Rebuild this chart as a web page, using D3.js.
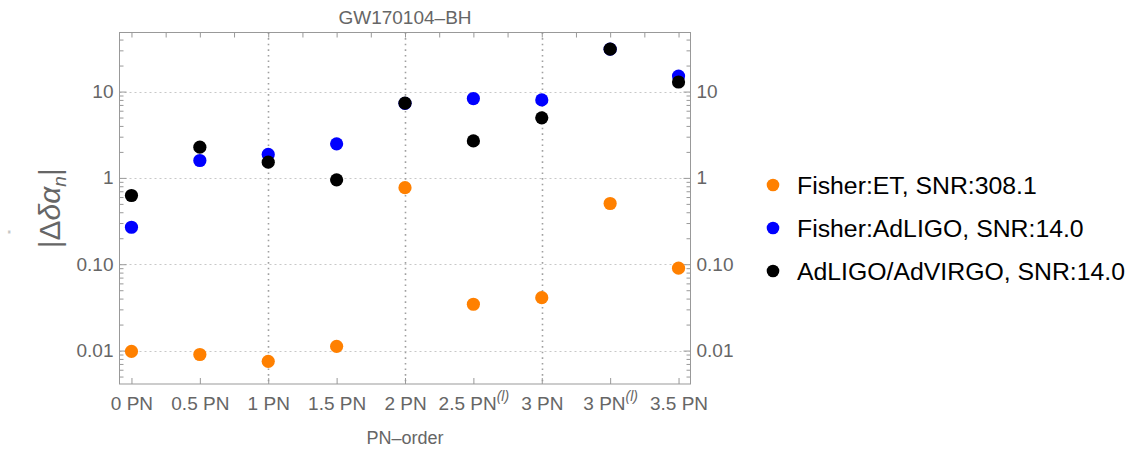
<!DOCTYPE html>
<html>
<head>
<meta charset="utf-8">
<script src="https://cdn.jsdelivr.net/npm/d3@7"></script>
<style>
  body { margin: 0; background: #fff; }
  svg { font-family: "Liberation Sans", Arial, sans-serif; }
  .axis path { display: none; }
  .axis line { stroke: #999; }
  .axis text { fill: #666; font-size: 19px; }
</style>
</head>
<body>
<div id="chart"></div>
<script>
// PN orders along the x axis (label text, optional superscript)
const orders = ["0 PN", "0.5 PN", "1 PN", "1.5 PN", "2 PN", "2.5 PN", "3 PN", "3 PN", "3.5 PN"];
const orderSup = ["", "", "", "", "", "(l)", "", "(l)", ""];

// |Δδα_n| per order
const fisherET = [0.0098, 0.0090, 0.0075, 0.0112, 0.77, 0.0344, 0.041, 0.505, 0.090];
const fisherAdLIGO = [0.268, 1.59, 1.87, 2.48, 7.3, 8.3, 8.0, 31.0, 15.1];
const ligoVirgo = [0.625, 2.27, 1.52, 0.95, 7.34, 2.68, 4.96, 31.0, 12.9];

const seriesNames = ["Fisher:ET, SNR:308.1", "Fisher:AdLIGO, SNR:14.0", "AdLIGO/AdVIRGO, SNR:14.0"];
const seriesColors = ["#ff8000", "#0000ff", "#000000"];

const yMajor = [0.01, 0.1, 1, 10];
const yMajorLabels = ["0.01", "0.10", "1", "10"];
const yMinor = [];
[0.001, 0.01, 0.1, 1, 10].forEach(d => {
  for (let k = 2; k <= 9; k++) yMinor.push(d * k);
});

const width = 1133, height = 449;
const frame = { left: 119.5, right: 690.5, top: 32.5, bottom: 384 };

const svg = d3.select("#chart").append("svg")
  .attr("width", width)
  .attr("height", height);

const x = d3.scaleLinear()
  .domain([-0.175, 8.175])
  .range([frame.left, frame.right]);

const y = d3.scaleLog()
  .domain([0.0041, 48.3])
  .range([frame.bottom, frame.top]);

const idx = d3.range(orders.length);

// grid lines
const grid = svg.append("g");
grid.selectAll(".hgrid")
  .data(yMajor)
  .join("line")
  .attr("x1", frame.left).attr("x2", frame.right)
  .attr("y1", d => Math.round(y(d)) + 0.5).attr("y2", d => Math.round(y(d)) + 0.5)
  .attr("stroke", "#c8c8c8")
  .attr("stroke-dasharray", "2,3");

grid.selectAll(".vgrid")
  .data([2, 4, 6])
  .join("line")
  .attr("x1", d => Math.round(x(d)) + 0.5).attr("x2", d => Math.round(x(d)) + 0.5)
  .attr("y1", frame.top).attr("y2", frame.bottom)
  .attr("stroke", "#a0a0a0")
  .attr("stroke-width", 1.6)
  .attr("stroke-dasharray", "1.6,4");

// frame
svg.append("rect")
  .attr("x", frame.left).attr("y", frame.top)
  .attr("width", frame.right - frame.left)
  .attr("height", frame.bottom - frame.top)
  .attr("fill", "none")
  .attr("stroke", "#999");

// y axes (ticks point inward)
svg.append("g").attr("class", "axis")
  .attr("transform", `translate(${frame.left},0)`)
  .call(d3.axisLeft(y).tickValues(yMajor).tickSizeInner(-7).tickPadding(6)
    .tickFormat((d, i) => yMajorLabels[i]));

svg.append("g").attr("class", "axis")
  .attr("transform", `translate(${frame.left},0)`)
  .call(d3.axisLeft(y).tickValues(yMinor.filter(v => v > 0.0041 && v < 48.3))
    .tickSizeInner(-4).tickFormat(""));

svg.append("g").attr("class", "axis")
  .attr("transform", `translate(${frame.right},0)`)
  .call(d3.axisRight(y).tickValues(yMajor).tickSizeInner(-7).tickPadding(6)
    .tickFormat((d, i) => yMajorLabels[i]));

svg.append("g").attr("class", "axis")
  .attr("transform", `translate(${frame.right},0)`)
  .call(d3.axisRight(y).tickValues(yMinor.filter(v => v > 0.0041 && v < 48.3))
    .tickSizeInner(-4).tickFormat(""));

// x axis at the bottom with labels
const xAxisG = svg.append("g").attr("class", "axis")
  .attr("transform", `translate(0,${frame.bottom})`)
  .call(d3.axisBottom(x).tickValues(idx).tickSizeInner(-6).tickPadding(14)
    .tickFormat(""));

xAxisG.selectAll(".tick text").each(function(d) {
  const t = d3.select(this);
  t.text(null);
  t.append("tspan").text(orders[d]);
  if (orderSup[d]) {
    t.append("tspan")
      .attr("dy", -9)
      .attr("font-size", 14)
      .attr("font-style", "italic")
      .text(orderSup[d]);
  }
});
xAxisG.selectAll(".tick text").attr("y", 13).attr("dy", "0.71em");

// top axis, ticks at every half step
svg.append("g").attr("class", "axis")
  .attr("transform", `translate(0,${frame.top})`)
  .call(d3.axisTop(x).tickValues(d3.range(0, 8.01, 0.5)).tickSizeInner(-5).tickFormat(""));

// points
const series = [fisherET, fisherAdLIGO, ligoVirgo];
series.forEach((vals, s) => {
  svg.append("g").selectAll("circle")
    .data(vals)
    .join("circle")
    .attr("cx", (d, i) => x(i))
    .attr("cy", d => y(d))
    .attr("r", 6.6)
    .attr("fill", seriesColors[s]);
});

// title
svg.append("text")
  .attr("x", (frame.left + frame.right) / 2)
  .attr("y", 24)
  .attr("text-anchor", "middle")
  .attr("fill", "#666")
  .attr("font-size", 19)
  .text("GW170104\u2013BH");

// x label
svg.append("text")
  .attr("x", (frame.left + frame.right) / 2)
  .attr("y", 444)
  .attr("text-anchor", "middle")
  .attr("fill", "#666")
  .attr("font-size", 18)
  .text("PN\u2013order");

// y label
const yl = svg.append("text")
  .attr("transform", `translate(60,${(frame.top + frame.bottom) / 2}) rotate(-90)`)
  .attr("text-anchor", "middle")
  .attr("fill", "#666")
  .attr("font-size", 30);
yl.append("tspan").text("|\u0394");
yl.append("tspan").attr("font-style", "italic").text("\u03b4\u03b1");
yl.append("tspan").attr("font-style", "italic").attr("font-size", 19).attr("dy", 6).text("n");
yl.append("tspan").attr("dy", -6).text("|");

svg.append("text")
  .attr("transform", "translate(16,232) rotate(-90)")
  .attr("text-anchor", "middle")
  .attr("fill", "#999")
  .attr("font-size", 10)
  .text("\"");

// legend
const legend = svg.append("g").attr("transform", "translate(773,185)");
seriesNames.forEach((name, i) => {
  const row = legend.append("g").attr("transform", `translate(0,${i * 43})`);
  row.append("circle").attr("r", 6.3).attr("fill", seriesColors[i]);
  row.append("text")
    .attr("x", 24)
    .attr("dy", "0.36em")
    .attr("font-size", 24.8)
    .attr("fill", "#000")
    .text(name);
});
</script>
</body>
</html>
